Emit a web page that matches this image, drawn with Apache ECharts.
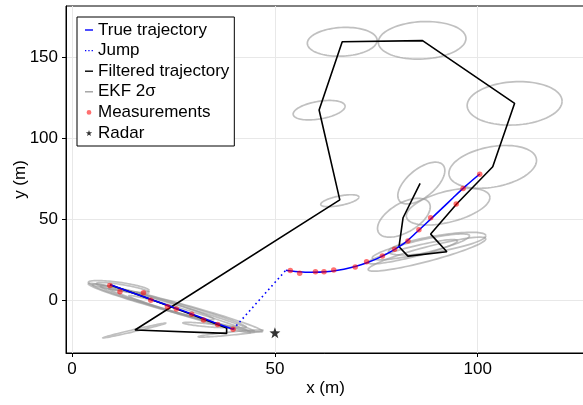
<!DOCTYPE html>
<html>
<head>
<meta charset="utf-8">
<script src="https://cdn.jsdelivr.net/npm/echarts@6/dist/echarts.min.js"></script>
<style>
html,body{margin:0;padding:0;background:#fff}
#chart{width:583px;height:405px}
</style>
</head>
<body>
<div id="chart"></div>
<script>
// tick positions
var xTicks = [0, 50, 100];
var yTicks = [0, 50, 100, 150];

// true trajectory, two pieces
var trueX1 = [9.5, 15, 20, 25, 30, 35, 39.7];
var trueY1 = [9.6, 4.6, 0.1, -4.4, -8.9, -13.6, -17.9];
var trueX2 = [52.7, 55, 58, 61, 64, 67, 70, 73, 76, 79, 82, 85, 88, 91, 94, 97, 100.5];
var trueY2 = [18.6, 17.8, 17.3, 17.4, 18.0, 19.2, 21.0, 23.5, 26.7, 30.7, 35.5, 42.2, 49.2, 56.3, 63.5, 70.5, 78.0];

// jump between the two pieces
var jumpX = [39.7, 52.7];
var jumpY = [-17.9, 18.6];

// filtered trajectory
var filtX = [9.3, 14, 19, 24, 29, 34, 38.1, 38.1, 15.5, 66, 60.9, 66.6, 86.4, 109.1, 103.7, 94.8, 88.4, 92.4, 82.8, 80.6, 81.6, 85.8];
var filtY = [9.6, 5.5, 1.0, -3.6, -8.2, -13.0, -17.0, -20.4, -18.3, 62, 117.5, 159.6, 160.3, 121.6, 82.5, 59.5, 40.9, 30, 27.3, 33.1, 51, 72.2];

// measurements
var measX = [9.3, 11.8, 17.6, 19.4, 23.5, 25.7, 29.5, 32.4, 35.9, 39.7,
             53.8, 56.1, 60.0, 62.1, 64.5, 69.8, 72.6, 76.5, 79.5, 82.8, 85.5, 88.4, 94.7, 96.4, 100.5];
var measY = [9.2, 5.3, 4.7, 0.1, -3.9, -5.4, -8.6, -12.2, -14.9, -17.9,
             18.5, 16.7, 17.7, 17.7, 18.7, 20.6, 23.8, 27.4, 31.5, 36.7, 43.6, 51.0, 59.4, 69.1, 77.9];

var radarX = [50];
var radarY = [-20];

// EKF 2 sigma ellipses: centre, half extents in x / y, correlation
var ellCx  = [11.5, 12.5, 25.5, 24.0, 27.0, 21.0, 29.0, 15.4, 32.7, 39.1,
              66.6, 86.3, 109.1, 60.9, 103.7, 66.0,
              86.1, 81.8, 92.7, 87.5, 86.0, 90.0, 84.0];
var ellCy  = [8.6, 7.6, -4.5, -3.5, -6.0, -1.5, -8.5, -18.6, -15.2, -20.5,
              159.6, 160.5, 121.6, 117.4, 82.4, 61.5,
              72.4, 51.0, 57.8, 28.5, 33.0, 35.0, 30.0];
var ellSx  = [7.5, 6.5, 21.5, 19.0, 18.0, 14.0, 15.0, 7.8, 5.4, 8.0,
              8.6, 10.8, 11.7, 6.4, 10.8, 4.7,
              5.8, 6.5, 10.3, 14.5, 12.0, 12.0, 11.0];
var ellSy  = [3.6, 3.4, 15.0, 13.5, 13.5, 10.5, 11.5, 4.6, 1.6, 2.2,
              8.9, 11.6, 13.4, 6.0, 13.2, 3.7,
              12.9, 12.0, 11.3, 10.5, 8.0, 7.0, 7.5];
var ellRho = [-0.7, -0.8, -0.975, -0.975, -0.985, -0.97, -0.985, 0.99, -0.8, 0.9,
              0.1, 0.1, 0.1, 0.4, 0.3, 0.6,
              0.6, 0.55, 0.5, 0.9, 0.85, 0.7, 0.9];

function pairs(xs, ys) {
    var out = [];
    for (var i = 0; i < xs.length; i++) out.push([xs[i], ys[i]]);
    return out;
}

var ellData = [];
for (var i = 0; i < ellCx.length; i++) {
    ellData.push([ellCx[i], ellCy[i], ellSx[i], ellSy[i], ellRho[i]]);
}

function renderEllipse(params, api) {
    var cx = api.value(0), cy = api.value(1), sx = api.value(2), sy = api.value(3), r = api.value(4);
    var q = Math.sqrt(1 - r * r);
    var pts = [];
    for (var k = 0; k <= 90; k++) {
        var t = k / 90 * 2 * Math.PI;
        pts.push(api.coord([cx + sx * Math.cos(t), cy + sy * (r * Math.cos(t) + q * Math.sin(t))]));
    }
    return {
        type: 'polyline',
        shape: { points: pts },
        style: { stroke: 'rgba(150,150,150,0.6)', lineWidth: 1.7, fill: null }
    };
}

var font = 'Liberation Sans';
var star = 'path://M0,-10 L2.35,-3.24 L9.51,-3.09 L3.8,1.24 L5.88,8.09 L0,4 L-5.88,8.09 L-3.8,1.24 L-9.51,-3.09 L-2.35,-3.24 Z';
// legend icons, the lone moves keep the icon box at 8 x 6
var iconLine = 'path://M0,0M8,6M0,2.3L8,2.3L8,3.7L0,3.7Z';
var iconDots = 'path://M0,0M8,6M0,2.4h1.3v1.3h-1.3zM3.3,2.4h1.3v1.3h-1.3zM6.6,2.4h1.3v1.3h-1.3z';
var iconDot = 'path://M0,0M8,6M4,0.6A2.4,2.4,0,1,1,4,5.4A2.4,2.4,0,1,1,4,0.6Z';

var myChart = echarts.init(document.getElementById('chart'));
var option = {
    animation: false,
    grid: { left: 66, top: 6, right: -2, bottom: 52, outerBoundsMode: 'none', containLabel: false,
            show: true, borderColor: '#000', borderWidth: 1 },
    legend: {
        orient: 'vertical',
        left: 77, top: 17,
        padding: [3, 5, 3, 8],
        itemWidth: 8, itemHeight: 6, itemGap: 0.6,
        backgroundColor: '#fff',
        borderColor: '#000', borderWidth: 1,
        textStyle: { fontFamily: font, fontSize: 17, color: '#000', lineHeight: 20 },
        data: [
            { name: 'True trajectory', icon: iconLine },
            { name: 'Jump', icon: iconDots },
            { name: 'Filtered trajectory', icon: iconLine },
            { name: 'EKF 2σ', icon: iconLine },
            { name: 'Measurements', icon: iconDot },
            { name: 'Radar', icon: star }
        ]
    },
    xAxis: {
        type: 'value', min: -1.5, max: 126.45,
        name: 'x (m)', nameLocation: 'middle', nameGap: 27, nameMoveOverlap: false,
        nameTextStyle: { fontFamily: font, fontSize: 17, color: '#000' },
        axisLine: { show: true, onZero: false, lineStyle: { color: '#000', width: 1 } },
        axisTick: { show: true, length: 4, customValues: xTicks, lineStyle: { color: '#000' } },
        axisLabel: { customValues: xTicks, margin: 8, fontFamily: font, fontSize: 17, color: '#000' },
        splitLine: { show: true, lineStyle: { color: '#e8e8e8', width: 1 } }
    },
    yAxis: {
        type: 'value', min: -32.5, max: 181.7,
        name: 'y (m)', nameLocation: 'middle', nameGap: 37, nameMoveOverlap: false,
        nameTextStyle: { fontFamily: font, fontSize: 17, color: '#000' },
        axisLine: { show: true, onZero: false, lineStyle: { color: '#000', width: 1 } },
        axisTick: { show: true, length: 4, customValues: yTicks, lineStyle: { color: '#000' } },
        axisLabel: { customValues: yTicks, margin: 8, fontFamily: font, fontSize: 17, color: '#000' },
        splitLine: { show: true, lineStyle: { color: '#e8e8e8', width: 1 } }
    },
    series: [
        {
            name: 'ellipses', type: 'custom', renderItem: renderEllipse,
            data: ellData, encode: { x: 0, y: 1 }, silent: true, z: 1
        },
        {
            name: 'EKF 2σ', type: 'line', data: [], symbol: 'none',
            lineStyle: { color: '#a0a0a0', width: 1.6 }, itemStyle: { color: '#a0a0a0' }
        },
        {
            name: 'Filtered trajectory', type: 'line', data: pairs(filtX, filtY), symbol: 'none',
            lineStyle: { color: '#000', width: 1.6 }, itemStyle: { color: '#000' }, z: 2
        },
        {
            name: 'True trajectory', type: 'line', data: pairs(trueX1, trueY1), symbol: 'none', smooth: 0.3,
            lineStyle: { color: '#0000ff', width: 1.6 }, itemStyle: { color: '#0000ff' }, z: 3
        },
        {
            name: 'True trajectory', type: 'line', data: pairs(trueX2, trueY2), symbol: 'none', smooth: 0.3,
            lineStyle: { color: '#0000ff', width: 1.6 }, itemStyle: { color: '#0000ff' }, z: 3
        },
        {
            name: 'Jump', type: 'line', data: pairs(jumpX, jumpY), symbol: 'none',
            lineStyle: { color: '#0000ff', width: 1.6, type: [1.6, 3.2] }, itemStyle: { color: '#0000ff' }, z: 3
        },
        {
            name: 'Measurements', type: 'scatter', data: pairs(measX, measY), symbolSize: 5.5,
            itemStyle: { color: 'rgba(255,0,0,0.7)' }, z: 4
        },
        {
            name: 'Radar', type: 'scatter', data: pairs(radarX, radarY), symbol: star, symbolSize: 11,
            itemStyle: { color: '#000' }, z: 4
        }
    ]
};
myChart.setOption(option);
</script>
</body>
</html>
